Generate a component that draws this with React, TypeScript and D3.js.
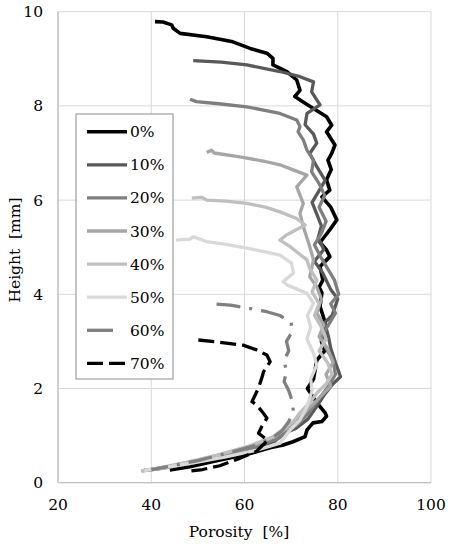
import * as d3 from "d3";

// porosity [%], height [mm] pairs
const p0: [number, number][] = [
  [40.8, 9.79], [42.5, 9.78], [44.4, 9.72], [44.7, 9.65], [46.2, 9.54], [51.9, 9.47], [57.5, 9.36],
  [61.2, 9.22], [64.8, 9.12], [66.1, 9.01], [66.1, 8.87], [69.1, 8.73], [71.2, 8.55],
  [71.9, 8.33], [70.8, 8.2], [72.5, 8.09], [74.7, 7.95], [77.6, 7.77], [78.7, 7.59],
  [77.6, 7.45], [79.4, 7.17], [78.7, 6.99], [77.9, 6.85], [78.6, 6.65], [77.6, 6.43], [78.3, 6.21],
  [76.6, 6.07], [78.5, 5.85], [79.8, 5.58], [78.3, 5.37], [76.2, 5.1], [77.6, 4.94],
  [78.3, 4.8], [76.2, 4.59], [76.8, 4.3], [76.0, 4.15], [76.6, 4.03], [76.2, 3.74], [77.3, 3.4],
  [76.5, 3.0], [77.2, 2.8], [75.5, 2.6], [74.8, 2.2], [73.5, 2.0], [75.5, 1.7], [77.3, 1.48],
  [77.6, 1.41], [76.6, 1.3], [74.7, 1.27], [73.4, 1.12], [73.0, 0.98], [70.4, 0.87],
  [68.3, 0.8], [65.5, 0.74], [61.2, 0.62], [53.3, 0.45], [48.3, 0.34], [44, 0.27],
];
const p10: [number, number][] = [
  [49.0, 8.96], [55, 8.93], [60.5, 8.87], [67.6, 8.73], [71.9, 8.62], [74.8, 8.51],
  [74.4, 8.3], [76.2, 8.02], [73.4, 7.84], [73.0, 7.6], [74.8, 7.4], [75.5, 7.21],
  [74.0, 6.99], [75.5, 6.71], [77.3, 6.42], [76.0, 6.2], [74.5, 5.95], [75.5, 5.7],
  [76.5, 5.45], [75.8, 5.2], [77.0, 4.95], [75.0, 4.7], [76.8, 4.45], [78.5, 4.1],
  [80.0, 3.9], [78.8, 3.55], [77.2, 3.4], [78.0, 3.1], [78.5, 2.85], [79.5, 2.55],
  [80.6, 2.25], [79.0, 2.1], [77.0, 1.85], [75.5, 1.62], [73.6, 1.35], [71.0, 1.15],
  [68.5, 1.05], [66.5, 0.88], [62, 0.72], [55, 0.55], [48, 0.4], [42, 0.3], [38.0, 0.25],
];
const p20: [number, number][] = [
  [48.3, 8.14], [49.7, 8.09], [55, 8.04], [60.5, 7.98], [67.6, 7.84], [71.2, 7.7],
  [71.9, 7.56], [71.5, 7.45], [72.6, 7.28], [73.4, 7.06], [74.8, 6.85], [74.4, 6.6],
  [76.0, 6.35], [77.2, 6.1], [76.0, 5.85], [77.5, 5.55], [76.5, 5.3], [75.0, 5.05],
  [76.3, 4.8], [77.8, 4.55], [79.3, 4.3], [80.2, 4.0], [78.5, 3.8], [79.5, 3.6],
  [78.0, 3.35], [76.5, 3.1], [77.5, 2.85], [79.0, 2.6], [79.5, 2.3], [78.0, 2.05],
  [76.5, 1.85], [75.0, 1.65], [73.5, 1.45], [71.5, 1.25], [69.5, 1.1], [67.5, 0.95],
  [63, 0.78], [56, 0.6], [49, 0.45], [43, 0.33], [38.5, 0.26],
];
const p30: [number, number][] = [
  [51.9, 7.01], [52.9, 7.06], [53.5, 7.0], [59.0, 6.92], [64, 6.83], [67.6, 6.75],
  [71.0, 6.62], [73.4, 6.53], [71.2, 6.28], [72.6, 5.93], [71.9, 5.72], [72.6, 5.44],
  [74.0, 5.01], [74.8, 4.73], [74.0, 4.37], [75.5, 4.16], [76.5, 3.9], [75.5, 3.6],
  [77.0, 3.35], [76.0, 3.1], [77.8, 2.85], [79.0, 2.55], [77.5, 2.3], [78.5, 2.05],
  [76.5, 1.85], [74.5, 1.65], [72.5, 1.45], [71.0, 1.3], [69.0, 1.15], [66.5, 0.98],
  [62, 0.8], [55, 0.6], [48, 0.43], [42, 0.31], [38.5, 0.26],
];
const p40: [number, number][] = [
  [48.7, 6.04], [50.8, 6.06], [51.9, 6.0], [56, 5.98], [60.5, 5.93], [64.5, 5.85],
  [67.6, 5.75], [71.2, 5.61], [73.0, 5.47], [69.0, 5.26], [67.6, 5.15], [69.8, 5.01],
  [73.4, 4.73], [74.0, 4.55], [75.5, 4.3], [74.5, 4.05], [76.0, 3.8], [75.0, 3.55],
  [76.5, 3.3], [77.5, 3.05], [76.0, 2.8], [77.8, 2.55], [78.8, 2.3], [77.5, 2.1],
  [75.5, 1.9], [74.0, 1.7], [72.0, 1.5], [70.5, 1.3], [68.5, 1.15], [66.0, 0.97],
  [61, 0.78], [54, 0.58], [47, 0.42], [41, 0.3], [37.8, 0.25],
];
const p50: [number, number][] = [
  [45.3, 5.15], [48.3, 5.17], [49.0, 5.22], [51.9, 5.12], [56, 5.06], [60.5, 4.98],
  [64.5, 4.9], [67.6, 4.83], [70.1, 4.66], [70.5, 4.45], [68.3, 4.27], [69.1, 4.2],
  [73.4, 4.02], [74.8, 3.81], [73.5, 3.55], [74.2, 3.3], [73.4, 3.05], [74.8, 2.75],
  [75.5, 2.5], [74.2, 2.2], [74.5, 1.95], [73.4, 1.62], [71.9, 1.33], [69.8, 1.12],
  [67.6, 0.84], [63, 0.7], [56, 0.55], [49, 0.42], [43, 0.32], [38.5, 0.26],
];
const p60: [number, number][] = [
  [54.0, 3.79], [57, 3.77], [62.2, 3.68], [64.8, 3.63], [67.6, 3.55], [70, 3.4],
  [70.2, 3.2], [69, 3.0], [69.5, 2.8], [68.5, 2.6], [69, 2.35], [68.5, 2.15],
  [69.5, 1.95], [70.2, 1.75], [70.5, 1.5], [69.5, 1.3], [68, 1.1], [66, 0.95],
  [62, 0.78], [56, 0.62], [50, 0.47], [44, 0.35], [40, 0.28],
];
const p70: [number, number][] = [
  [50.1, 3.03], [54.7, 2.98], [59.7, 2.92], [62.6, 2.82], [64.8, 2.71], [65.5, 2.57],
  [64.1, 2.36], [63.7, 2.22], [63.0, 2.01], [61.6, 1.72], [62.6, 1.65], [64.1, 1.47],
  [64.8, 1.37], [63.7, 1.19], [63.0, 1.05], [65.0, 0.9], [62.5, 0.66], [58.5, 0.5],
  [54.7, 0.36], [51, 0.28], [47.9, 0.24],
];

const seriesNames = ["0%", "10%", "20%", "30%", "40%", "50%", "60%", "70%"];
const seriesData = [p0, p10, p20, p30, p40, p50, p60, p70];
const seriesColors = ["#000000", "#595959", "#7f7f7f", "#a6a6a6", "#bfbfbf", "#d9d9d9", "#808080", "#000000"];
const seriesDash = ["", "", "", "", "", "", "24 9 3 9", "16 6"];

const xTicks = [20, 40, 60, 80, 100];
const yTicks = [0, 2, 4, 6, 8, 10];

const font = "DejaVu Serif";
const fs = 15.5;

export default function App() {
  const left = 58;
  const right = 431;
  const top = 11.7;
  const bottom = 482.7;

  const x = d3.scaleLinear().domain([20, 100]).range([left, right]);
  const y = d3.scaleLinear().domain([0, 10]).range([bottom, top]);
  const line = d3
    .line<[number, number]>()
    .x((d) => x(d[0]))
    .y((d) => y(d[1]));

  const legX = 76;
  const legY = 114;
  const legW = 97;
  const legH = 265;
  const legStep = 33.1;

  return (
    <svg width={453} height={550} style={{ position: "absolute", left: 0, top: 0 }} fontFamily={font}>
      <rect width={453} height={550} fill="#fff" />
      {/* grid */}
      {xTicks.map((t) => (
        <line key={"gx" + t} x1={x(t)} x2={x(t)} y1={top} y2={bottom} stroke="#d9d9d9" strokeWidth={1} />
      ))}
      {yTicks.map((t) => (
        <line key={"gy" + t} x1={left} x2={right} y1={y(t)} y2={y(t)} stroke="#d9d9d9" strokeWidth={1} />
      ))}
      {/* axes */}
      <line x1={left} x2={left} y1={top} y2={bottom} stroke="#bfbfbf" strokeWidth={1.3} />
      <line x1={left} x2={right} y1={bottom} y2={bottom} stroke="#bfbfbf" strokeWidth={1.3} />

      {/* tick labels */}
      {xTicks.map((t) => (
        <text key={"tx" + t} x={x(t)} y={510} textAnchor="middle" fontSize={fs} fill="#000">
          {t}
        </text>
      ))}
      {yTicks.map((t) => (
        <text key={"ty" + t} x={43} y={y(t)} dy="0.36em" textAnchor="end" fontSize={fs} fill="#000">
          {t}
        </text>
      ))}

      {/* series */}
      {seriesData.map((d, i) => (
        <path
          key={seriesNames[i]}
          d={line(d) || ""}
          fill="none"
          stroke={seriesColors[i]}
          strokeWidth={i === 0 ? 3.6 : 3.3}
          strokeDasharray={seriesDash[i] || undefined}
          strokeLinejoin="round"
        />
      ))}

      {/* legend */}
      <rect x={legX} y={legY} width={legW} height={legH} fill="#fff" stroke="#8c8c8c" strokeWidth={1} />
      {seriesNames.map((n, i) => {
        const cy = legY + 17.7 + i * legStep;
        return (
          <g key={"leg" + n}>
            <line
              x1={87}
              x2={i === 6 ? 113 : 127}
              y1={cy}
              y2={cy}
              stroke={seriesColors[i]}
              strokeWidth={i === 0 ? 3.6 : 3.3}
              strokeDasharray={i === 7 ? seriesDash[i] : undefined}
            />
            <text x={130} y={cy} dy="0.36em" fontSize={fs} fill="#000">
              {n}
            </text>
          </g>
        );
      })}

      {/* axis titles */}
      <text x={239} y={537} textAnchor="middle" fontSize={fs} fill="#000" xmlSpace="preserve">
        {"Porosity  [%]"}
      </text>
      <text transform="translate(20,250) rotate(-90)" textAnchor="middle" fontSize={fs} fill="#000" xmlSpace="preserve">
        {"Height  [mm]"}
      </text>
    </svg>
  );
}
